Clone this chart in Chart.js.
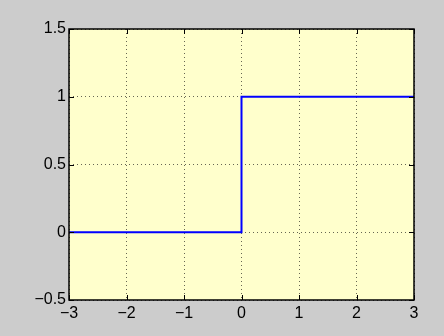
<!DOCTYPE html>
<html>
<head>
<meta charset="utf-8">
<script src="https://cdn.jsdelivr.net/npm/chart.js@4.4.1/dist/chart.umd.min.js"></script>
<style>
  html, body { margin: 0; padding: 0; background: #cccccc; }
  #wrap { width: 444px; height: 336px; }
</style>
</head>
<body>
<div id="wrap"><canvas id="c" width="444" height="336"></canvas></div>
<script>
// Unit step: 0 for x < 0, 1 for x >= 0
const stepX = [-3, 0, 0, 3];
const stepY = [0, 0, 1, 1];
const xTicks = [-3, -2, -1, 0, 1, 2, 3];
const yTicks = [-0.5, 0, 0.5, 1, 1.5];

const fmt = v => (v < 0 ? '\u2212' + String(-v) : String(v));

// Yellow plot area, black box and inward tick marks on all four sides
const axesBox = {
  id: 'axesBox',
  beforeDraw(chart) {
    const { ctx, chartArea: a } = chart;
    ctx.save();
    ctx.fillStyle = '#ffffcc';
    ctx.fillRect(a.left, a.top, a.right - a.left, a.bottom - a.top);
    ctx.restore();
  },
  afterDraw(chart) {
    const { ctx, chartArea: a, scales } = chart;
    ctx.save();
    ctx.strokeStyle = '#000';
    ctx.lineWidth = 1;
    ctx.beginPath();
    const L = 5;
    xTicks.forEach(v => {
      const px = Math.round(scales.x.getPixelForValue(v)) + 0.5;
      ctx.moveTo(px, a.bottom); ctx.lineTo(px, a.bottom - L);
      ctx.moveTo(px, a.top); ctx.lineTo(px, a.top + L);
    });
    yTicks.forEach(v => {
      const py = Math.round(scales.y.getPixelForValue(v)) + 0.5;
      ctx.moveTo(a.left, py); ctx.lineTo(a.left + L, py);
      ctx.moveTo(a.right, py); ctx.lineTo(a.right - L, py);
    });
    ctx.stroke();
    ctx.lineWidth = 1.5;
    ctx.strokeRect(a.left, a.top, a.right - a.left, a.bottom - a.top);
    ctx.restore();
  }
};

const gridOpts = {
  color: 'rgba(0,0,0,0.6)',
  lineWidth: 1,
  drawTicks: false
};

const labelFont = { family: 'Liberation Sans, Arial, sans-serif', size: 16 };

new Chart(document.getElementById('c'), {
  type: 'line',
  data: {
    datasets: [{
      data: stepX.map((x, i) => ({ x, y: stepY[i] })),
      borderColor: '#0000ff',
      borderWidth: 2,
      pointRadius: 0,
      fill: false,
      tension: 0
    }]
  },
  options: {
    responsive: false,
    animation: false,
    layout: { padding: { top: 29, right: 30, left: 0, bottom: 0 } },
    plugins: { legend: { display: false }, tooltip: { enabled: false } },
    scales: {
      x: {
        type: 'linear',
        min: -3, max: 3,
        afterBuildTicks: s => { s.ticks = xTicks.map(v => ({ value: v })); },
        afterFit: s => { s.height = 36; },
        grid: gridOpts,
        border: { display: false, dash: [1, 3] },
        ticks: {
          padding: 4,
          color: '#000',
          font: labelFont,
          callback: v => fmt(v),
          maxRotation: 0
        }
      },
      y: {
        type: 'linear',
        min: -0.5, max: 1.5,
        afterBuildTicks: s => { s.ticks = yTicks.map(v => ({ value: v })); },
        afterFit: s => { s.width = 69; },
        grid: gridOpts,
        border: { display: false, dash: [1, 3] },
        ticks: {
          padding: 3,
          color: '#000',
          font: labelFont,
          callback: v => fmt(v)
        }
      }
    }
  },
  plugins: [axesBox]
});
</script>
</body>
</html>
